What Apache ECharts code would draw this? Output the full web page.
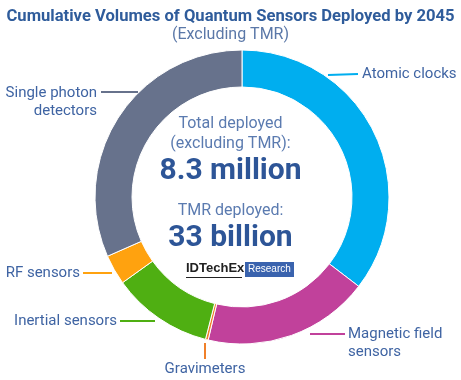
<!DOCTYPE html>
<html><head><meta charset="utf-8">
<script src="https://cdn.jsdelivr.net/npm/echarts@6/dist/echarts.min.js"></script>
<style>html,body{margin:0;padding:0;background:#fff}#c{width:461px;height:380px}</style>
</head><body><div id="c"></div>
<script>
const categories = ['Atomic clocks','Magnetic field\nsensors','Gravimeters','Inertial sensors','RF sensors','Single photon\ndetectors'];
const values = [35.4, 18.3, 0.3, 11.1, 3.3, 31.6]; // share of 8.3 million (%)
const colors = ['#00AEEF','#C1419B','#F0802A','#4FAF12','#FFA20F','#67728C'];
const lineColors = ['#00AEEF','#C1419B','#F0802A','#4FAF12','#FFA20F','#67728C'];
const titleText = 'Cumulative Volumes of Quantum Sensors Deployed by 2045';
const subtitleText = '(Excluding TMR)';
const centerLines = ['Total deployed','(excluding TMR):','8.3 million','TMR deployed:','33 billion'];

// label layout (annotation positions)
const labelLayouts = [
  {x:362, y:74, align:'left', pts:[[328,75],[358,74]]},
  {x:348, y:343, align:'left', pts:[[310,334],[345,334]]},
  {x:205, y:369, align:'center', pts:[[205,343],[205,359]]},
  {x:117, y:321, align:'right', pts:[[155,321],[120,321]]},
  {x:80, y:273, align:'right', pts:[[112,273],[83,273]]},
  {x:97, y:102, align:'right', pts:[[138,92],[101,92]]}
];

const chart = echarts.init(document.getElementById('c'));
const FONT = 'Roboto';
chart.setOption({
  animation:false,
  title:[
    {text:titleText, left:'center', top:3, textStyle:{fontFamily:FONT,fontWeight:'bold',fontSize:16.6,color:'#2F5C9B'}},
    {text:subtitleText, left:'center', top:22, textStyle:{fontFamily:FONT,fontWeight:'normal',fontSize:16,color:'#5B78A8'}}
  ],
  graphic:[
    {type:'text', left:'center', top:116, style:{text:centerLines[0], font:'16px Roboto', fill:'#5B7BB0'}},
    {type:'text', left:'center', top:136, style:{text:centerLines[1], font:'16px Roboto', fill:'#5B7BB0'}},
    {type:'text', left:'center', top:156, style:{text:centerLines[2], font:'bold 30px Roboto', fill:'#2D5597'}},
    {type:'text', left:'center', top:203, style:{text:centerLines[3], font:'16px Roboto', fill:'#5B7BB0'}},
    {type:'text', left:'center', top:223, style:{text:centerLines[4], font:'bold 30px Roboto', fill:'#2D5597'}},
    {type:'text', left:186, top:262, style:{text:'IDTechEx', font:'bold 13px "Liberation Sans"', fill:'#222'}},
    {type:'rect', left:186, top:277, shape:{width:56,height:1}, style:{fill:'#222'}},
    {type:'rect', left:245, top:262, shape:{width:49,height:15}, style:{fill:'#3A63AE'}},
    {type:'text', left:248, top:264, style:{text:'Research', font:'10px "Liberation Sans"', fill:'#fff'}}
  ],
  series:[{
    type:'pie',
    center:[242,197],
    radius:[110,147],
    startAngle:90,
    clockwise:true,
    color:colors,
    itemStyle:{borderColor:'#fff',borderWidth:1},
    label:{show:true, fontFamily:FONT, fontSize:15, color:'#3F64A3', lineHeight:18, overflow:'none',
      formatter:p=>p.name},
    labelLine:{show:true, lineStyle:{width:2}},
    labelLayout:function(params){
      const L = labelLayouts[params.dataIndex];
      return {x:L.x, y:L.y, align:L.align, verticalAlign:'middle', labelLinePoints:L.pts, width:200};
    },
    data:categories.map((c,i)=>({name:c, value:values[i], labelLine:{lineStyle:{color:lineColors[i]}}}))
  }]
});
</script></body></html>
